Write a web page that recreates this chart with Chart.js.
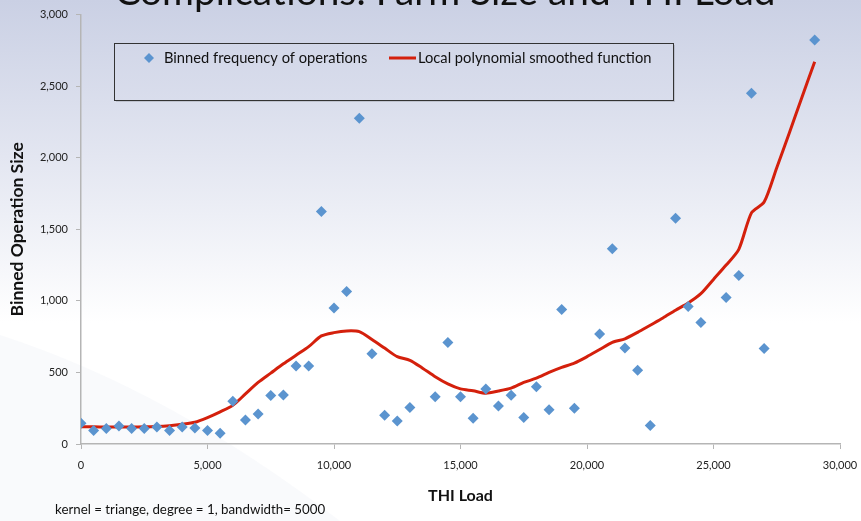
<!DOCTYPE html>
<html lang="en">
  <head>
    <meta charset="utf-8" />
    <title>THI Load vs Binned Operation Size</title>
    <style>
      * {
        margin: 0;
        padding: 0;
      }
      body {
        width: 861px;
        height: 521px;
        overflow: hidden;
        background: #fff;
      }
    </style>
  </head>
  <body>
    <canvas id="myChart" width="861" height="521"></canvas>

    <script src="https://cdn.jsdelivr.net/npm/chart.js"></script>

    <script>
      // binned scatter
      const binX = [0, 500, 1000, 1500, 2000, 2500, 3000, 3500, 4000, 4500, 5000, 5500,
        6000, 6500, 7000, 7500, 8000, 8500, 9000, 9500, 10000, 10500, 11000, 11500,
        12000, 12500, 13000, 14000, 14500, 15000, 15500, 16000, 16500, 17000, 17500,
        18000, 18500, 19000, 19500, 20500, 21000, 21500, 22000, 22500, 23500, 24000,
        24500, 25500, 26000, 26500, 27000, 29000];
      const binY = [145, 94, 109, 125, 109, 109, 118, 95, 118, 111, 95, 75,
        299, 167, 209, 339, 343, 545, 545, 1625, 950, 1065, 2275, 630,
        200, 160, 255, 330, 710, 330, 180, 385, 265, 340, 185,
        400, 240, 940, 250, 768, 1364, 670, 515, 130, 1577, 960,
        848, 1023, 1178, 2450, 668, 2823];

      // smoothed curve
      const smoothX = [0, 500, 1000, 1500, 2000, 2500, 3000, 3500, 4000, 4500, 5000, 5500,
        6000, 6500, 7000, 7500, 8000, 8500, 9000, 9500, 10000, 10500, 11000, 11500,
        12000, 12500, 13000, 13500, 14000, 14500, 15000, 15500, 16000, 16500, 17000,
        17500, 18000, 18500, 19000, 19500, 20000, 20500, 21000, 21500, 22000, 22500,
        23000, 23500, 24000, 24500, 25000, 25500, 26000, 26500, 27000, 27500, 28000,
        28500, 29000];
      const smoothY = [120, 120, 118, 118, 118, 120, 122, 128, 138, 152, 185, 225,
        270, 350, 430, 495, 560, 620, 680, 755, 778, 790, 785, 730,
        670, 610, 585, 530, 470, 420, 385, 372, 355, 370, 390,
        430, 460, 500, 535, 565, 610, 660, 710, 735, 780, 830,
        880, 935, 985, 1050, 1150, 1250, 1360, 1615, 1690, 1930, 2175,
        2425, 2670];

      const xTicks = [0, 5000, 10000, 15000, 20000, 25000, 30000];
      const yTicks = [0, 500, 1000, 1500, 2000, 2500, 3000];

      const seriesNames = ["Binned frequency of operations", "Local polynomial smoothed function"];
      const chartTitle = "Complications: Farm Size and THI Load";
      const footNote = "kernel = triange, degree = 1, bandwidth= 5000";

      const blue = "#5b94cf";
      const red = "#d4200c";
      const fontName = "Lato, 'Open Sans', sans-serif";

      const slideBackground = {
        id: "slideBackground",
        beforeDraw(chart) {
          const { ctx, width, height } = chart;
          ctx.save();
          const g = ctx.createLinearGradient(0, 0, 0, height);
          g.addColorStop(0, "#cad0e4");
          g.addColorStop(0.3, "#e3e6f1");
          g.addColorStop(0.62, "#ffffff");
          g.addColorStop(1, "#ffffff");
          ctx.fillStyle = g;
          ctx.fillRect(0, 0, width, height);

          // faint swoosh bottom-left
          ctx.fillStyle = "rgba(215, 220, 234, 0.14)";
          ctx.beginPath();
          ctx.moveTo(0, 335);
          ctx.quadraticCurveTo(170, 390, 340, 521);
          ctx.lineTo(0, 521);
          ctx.closePath();
          ctx.fill();
          ctx.restore();
        },
        afterDraw(chart) {
          const { ctx } = chart;
          ctx.save();

          // slide title, cut off at the top
          ctx.font = "38.8px " + fontName;
          ctx.fillStyle = "#111";
          ctx.textAlign = "center";
          ctx.textBaseline = "alphabetic";
          ctx.fillText(chartTitle, 445, 5);

          // legend box
          ctx.fillStyle = "rgba(0,0,0,0.12)";
          ctx.fillRect(116, 45, 559, 57);
          const lg = ctx.createLinearGradient(0, 43, 0, 100);
          lg.addColorStop(0, "#d2d7e8");
          lg.addColorStop(1, "#d9ddec");
          ctx.fillStyle = lg;
          ctx.fillRect(114, 43, 559, 57);
          ctx.strokeStyle = "#333";
          ctx.lineWidth = 1;
          ctx.strokeRect(114.5, 43.5, 559, 57);

          const ly = 58;
          ctx.fillStyle = blue;
          ctx.beginPath();
          ctx.moveTo(149, ly - 5);
          ctx.lineTo(154, ly);
          ctx.lineTo(149, ly + 5);
          ctx.lineTo(144, ly);
          ctx.closePath();
          ctx.fill();

          ctx.font = "14.7px " + fontName;
          ctx.fillStyle = "#111";
          ctx.textAlign = "left";
          ctx.textBaseline = "middle";
          ctx.fillText(seriesNames[0], 164, ly);

          ctx.strokeStyle = red;
          ctx.lineWidth = 3;
          ctx.beginPath();
          ctx.moveTo(389, ly);
          ctx.lineTo(416, ly);
          ctx.stroke();
          ctx.fillText(seriesNames[1], 418, ly);

          // footnote
          ctx.font = "13.3px " + fontName;
          ctx.fillText(footNote, 55, 510);
          ctx.restore();
        },
      };

      const data = {
        datasets: [
          {
            type: "scatter",
            label: seriesNames[0],
            data: binX.map((x, i) => ({ x: x, y: binY[i] })),
            pointStyle: "rectRot",
            pointRadius: 5.5,
            pointBackgroundColor: blue,
            pointBorderWidth: 0,
            order: 1,
          },
          {
            type: "line",
            label: seriesNames[1],
            data: smoothX.map((x, i) => ({ x: x, y: smoothY[i] })),
            borderColor: red,
            borderWidth: 3,
            pointRadius: 0,
            tension: 0.25,
            fill: false,
            order: 2,
          },
        ],
      };

      const config = {
        type: "scatter",
        data: data,
        options: {
          responsive: false,
          animation: false,
          layout: {
            padding: { left: 0, right: 0, top: 13, bottom: 0 },
          },
          plugins: {
            legend: { display: false },
            tooltip: { enabled: false },
          },
          scales: {
            x: {
              type: "linear",
              min: 0,
              max: 30000,
              afterBuildTicks(scale) {
                scale.ticks = xTicks.map((v) => ({ value: v }));
              },
              afterFit(scale) {
                scale.height = 77;
                scale.paddingRight = 21;
                scale.paddingLeft = 0;
              },
              grid: {
                drawOnChartArea: false,
                color: "#b5b5b5",
                tickLength: 5,
              },
              border: { color: "#b5b5b5", width: 1.5 },
              ticks: {
                color: "#222",
                padding: 10,
                maxRotation: 0,
                font: { family: fontName, size: 11 },
              },
              title: {
                display: true,
                text: "THI Load",
                color: "#111",
                font: { family: fontName, size: 16, weight: "bold" },
                padding: { top: 0, bottom: 16 },
              },
            },
            y: {
              min: 0,
              max: 3000,
              afterBuildTicks(scale) {
                scale.ticks = yTicks.map((v) => ({ value: v }));
              },
              afterFit(scale) {
                scale.width = 81;
              },
              grid: {
                drawOnChartArea: false,
                color: "#b5b5b5",
                tickLength: 5,
              },
              border: { color: "#b5b5b5", width: 1.5 },
              ticks: {
                color: "#222",
                padding: 8,
                font: { family: fontName, size: 11 },
              },
              title: {
                display: true,
                text: "Binned Operation Size",
                color: "#111",
                font: { family: fontName, size: 17.5, weight: "bold" },
                padding: { top: 7, bottom: 0 },
              },
            },
          },
        },
        plugins: [slideBackground],
      };

      const myChart = new Chart(document.getElementById("myChart"), config);
    </script>
  </body>
</html>
